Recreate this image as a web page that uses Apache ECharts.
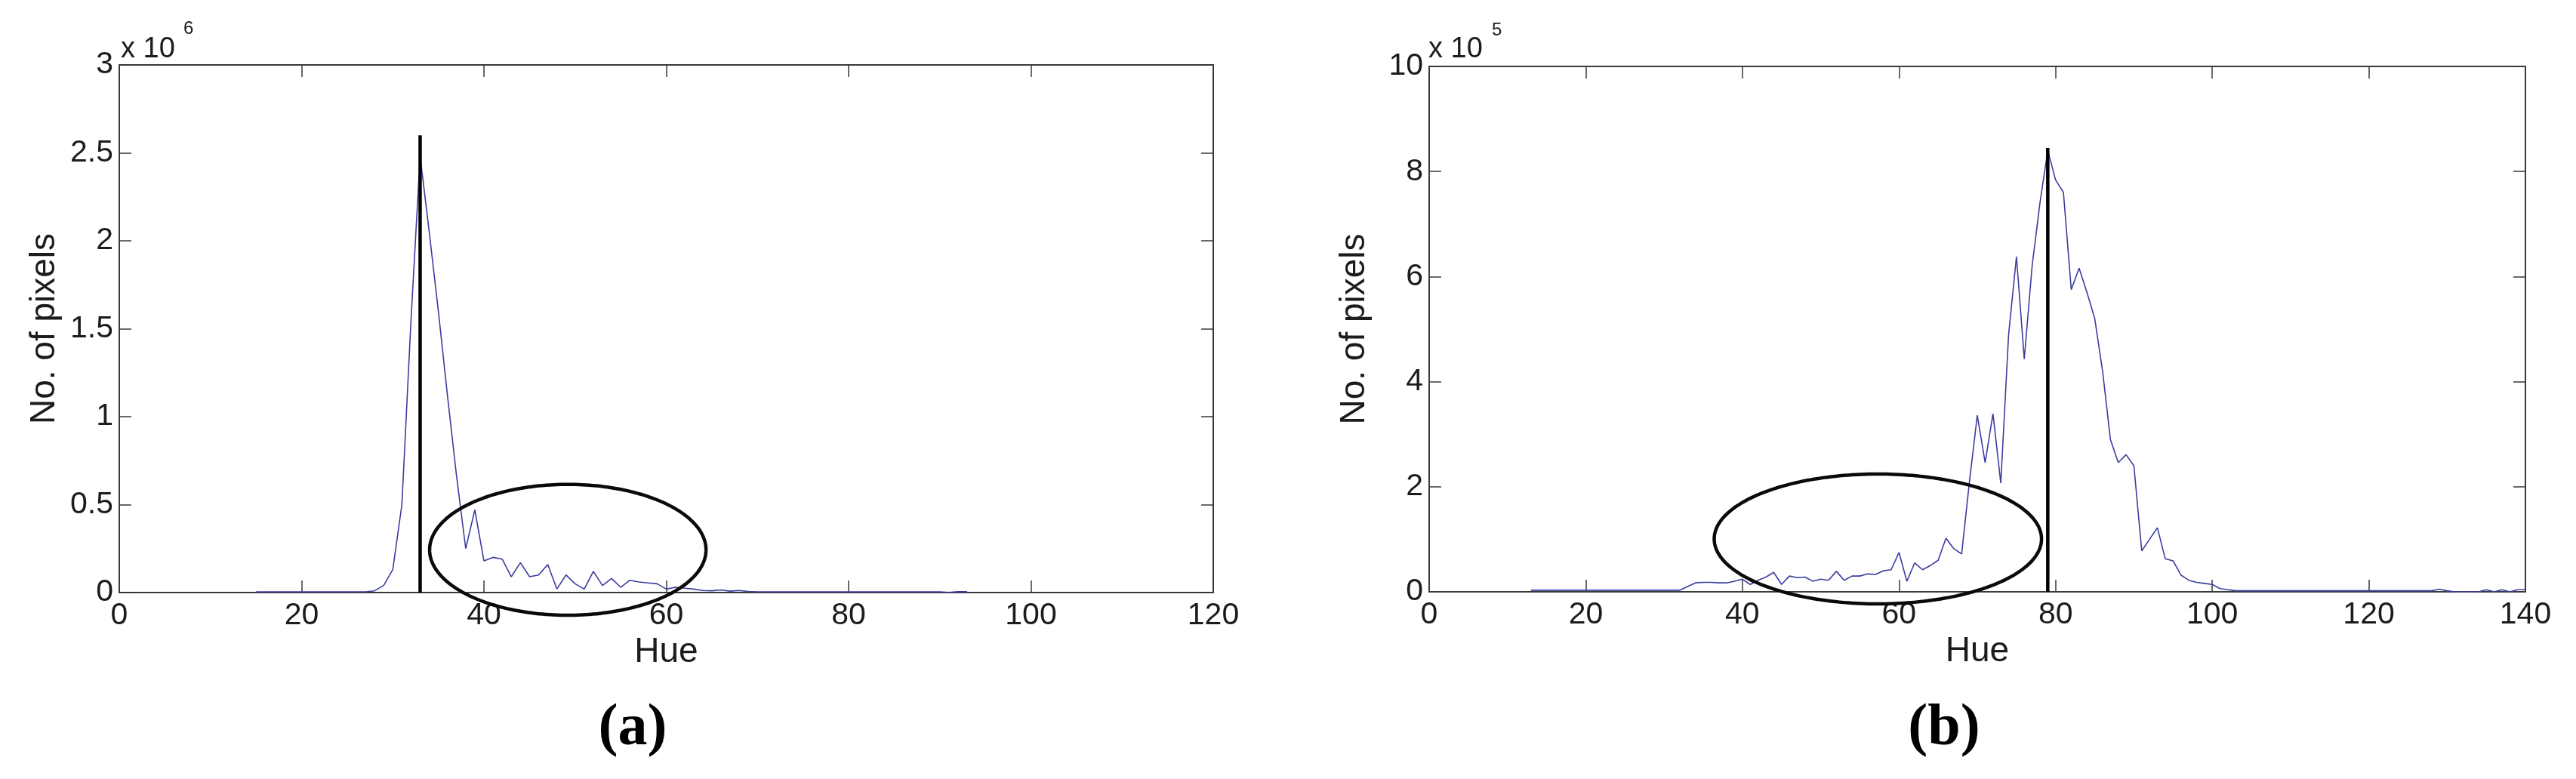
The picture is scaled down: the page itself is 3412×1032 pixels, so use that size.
<!DOCTYPE html>
<html><head><meta charset="utf-8">
<script src="https://cdn.jsdelivr.net/npm/echarts@6/dist/echarts.min.js"></script>
<style>html,body{margin:0;padding:0;background:#fff}#c{width:3412px;height:1032px}</style>
</head><body><div id="c"></div>
<script>
// ---- Panel (a): hue histogram, counts in units of 10^6 ----
const hueA = [15,16,17,18,19,20,21,22,23,24,25,26,27,28,29,30,31,32,33,34,35,36,37,38,39,40,
  41,42,43,44,45,46,47,48,49,50,51,52,53,54,55,56,57,58,59,60,61,62,63,64,65,66,67,68,69,70,
  71,72,73,74,75,76,77,78,79,80,81,82,83,84,85,86,87,88,89,90,91,92,93];
const countA = [0.004,0.004,0.004,0.004,0.004,0.004,0.004,0.004,0.004,0.004,0.004,0.004,0.004,
  0.01,0.04,0.13,0.5,1.55,2.48,2.05,1.6,1.12,0.66,0.25,0.47,0.18,
  0.2,0.19,0.09,0.17,0.09,0.1,0.16,0.02,0.1,0.05,0.02,0.12,0.04,0.08,0.03,0.07,0.06,0.055,0.05,0.02,
  0.03,0.025,0.02,0.012,0.01,0.015,0.008,0.012,0.006,0.004,
  0.004,0.004,0.004,0.004,0.004,0.004,0.004,0.004,0.004,0.004,0.004,0.004,0.004,0.004,0.004,0.004,0.004,0.004,0.004,0.004,
  0.001,0.005,0.005];
const peakLineA = [33, 2.6];            // [hue, top]
const ellipseA = [49.2, 0.243, 15.16, 0.372]; // [cx, cy, rx, ry] in data units
const xTicksA = [0, 120, 20];           // min, max, step
const yTicksA = [0, 3, 0.5];

// ---- Panel (b): counts in units of 10^5 ----
const hueB = [13,14,15,16,17,18,19,20,21,22,23,24,25,26,27,28,29,30,31,32,33,34,35,36,37,38,39,40,
  41,42,43,44,45,46,47,48,49,50,51,52,53,54,55,56,57,58,59,60,61,62,63,64,65,66,67,68,69,70,
  71,72,73,74,75,76,77,78,79,80,81,82,83,84,85,86,87,88,89,90,91,92,93,94,95,96,97,98,99,100,
  101,102,103,104,105,106,107,108,109,110,111,112,113,114,115,116,117,118,119,120,
  121,122,123,124,125,126,127,128,129,130,131,132,133,134,135,136,137,138,139,140];
const countB = [0.03,0.03,0.03,0.03,0.03,0.03,0.03,0.03,0.03,0.03,0.03,0.03,0.03,0.03,0.03,0.03,0.03,0.03,0.03,0.03,
  0.1,0.17,0.18,0.18,0.17,0.17,0.2,0.24,
  0.14,0.22,0.28,0.37,0.14,0.3,0.27,0.28,0.2,0.24,0.22,0.39,0.22,0.3,0.3,0.34,0.33,0.4,0.42,0.75,
  0.2,0.55,0.42,0.5,0.6,1.02,0.82,0.72,2.1,3.36,
  2.46,3.39,2.07,4.9,6.38,4.43,6.2,7.4,8.4,7.84,7.6,5.75,6.16,5.7,5.2,4.2,2.9,2.46,2.61,2.4,
  0.78,1.0,1.22,0.63,0.59,0.32,0.22,0.18,0.16,0.14,
  0.06,0.04,0.02,0.02,0.02,0.02,0.02,0.02,0.02,0.02,0.02,0.02,0.02,0.02,0.02,0.02,0.02,0.02,0.02,0.02,
  0.02,0.02,0.02,0.02,0.02,0.02,0.02,0.02,0.05,0.02,0,0,0,0,0.04,0,0.04,0,0.04,0.04];
const peakLineB = [79, 8.45];
const ellipseB = [57.3, 1.006, 20.9, 1.236];
const xTicksB = [0, 140, 20];
const yTicksB = [0, 10, 2];

const labelsText = { xName: 'Hue', yName: 'No. of pixels', panelA: '(a)', panelB: '(b)', expA: '6', expB: '5' };

const FONT = "'Liberation Sans', Arial, Helvetica, sans-serif";
const AX = '#3a3a3a';
const TXT = '#1c1c1c';
const CURVE = '#3c3ca0';

function pairs(xs, ys) { return xs.map((x, i) => [x, ys[i]]); }

function xAxisPair(g, t) {
  const base = {
    gridIndex: g, type: 'value', min: t[0], max: t[1], interval: t[2],
    splitLine: { show: false },
    axisLine: { onZero: false, lineStyle: { color: AX, width: 2 } },
    axisTick: { inside: true, length: 16, lineStyle: { color: AX, width: 1.5 } }
  };
  return [
    Object.assign({}, base, {
      position: 'bottom',
      axisLabel: { fontFamily: FONT, fontSize: 41, color: TXT, margin: 10 },
      name: labelsText.xName, nameLocation: 'middle', nameGap: 52,
      nameTextStyle: { fontFamily: FONT, fontSize: 46, color: TXT }
    }),
    Object.assign({}, base, { position: 'top', axisLabel: { show: false } })
  ];
}
function yAxisPair(g, t) {
  const base = {
    gridIndex: g, type: 'value', min: t[0], max: t[1], interval: t[2],
    splitLine: { show: false },
    axisLine: { onZero: false, lineStyle: { color: AX, width: 2 } },
    axisTick: { inside: true, length: 16, lineStyle: { color: AX, width: 1.5 } }
  };
  return [
    Object.assign({}, base, {
      position: 'left',
      axisLabel: { fontFamily: FONT, fontSize: 41, color: TXT, margin: 8 },
      name: labelsText.yName, nameLocation: 'middle', nameGap: 76,
      nameTextStyle: { fontFamily: FONT, fontSize: 46, color: TXT }
    }),
    Object.assign({}, base, { position: 'right', axisLabel: { show: false } })
  ];
}

function ellipseSeries(xi, yi, e) {
  return {
    type: 'custom', xAxisIndex: xi, yAxisIndex: yi, clip: false, silent: true, z: 6,
    data: [e],
    renderItem: function (params, api) {
      const cx = api.value(0), cy = api.value(1), rx = api.value(2), ry = api.value(3);
      const pts = [];
      for (let i = 0; i <= 240; i++) {
        const t = i / 240 * 2 * Math.PI;
        pts.push(api.coord([cx + rx * Math.cos(t), cy + ry * Math.sin(t)]));
      }
      return { type: 'polygon', shape: { points: pts }, style: { fill: 'none', stroke: '#0a0a0a', lineWidth: 4.5 } };
    }
  };
}

const chart = echarts.init(document.getElementById('c'), null, { renderer: 'canvas' });
const xa = xAxisPair(0, xTicksA), xb = xAxisPair(1, xTicksB);
const ya = yAxisPair(0, yTicksA), yb = yAxisPair(1, yTicksB);

chart.setOption({
  animation: false,
  backgroundColor: '#ffffff',
  grid: [
    { left: 158, top: 86, width: 1449, height: 699 },
    { left: 1893, top: 88, width: 1452, height: 696 }
  ],
  xAxis: [xa[0], xa[1], xb[0], xb[1]],
  yAxis: [ya[0], ya[1], yb[0], yb[1]],
  series: [
    { type: 'line', xAxisIndex: 0, yAxisIndex: 0, data: pairs(hueA, countA), symbol: 'none',
      lineStyle: { color: CURVE, width: 1.6 }, z: 4 },
    { type: 'line', xAxisIndex: 0, yAxisIndex: 0, data: [[peakLineA[0], 0], [peakLineA[0], peakLineA[1]]],
      symbol: 'none', lineStyle: { color: '#000', width: 4.5 }, z: 5 },
    ellipseSeries(0, 0, ellipseA),
    { type: 'line', xAxisIndex: 2, yAxisIndex: 2, data: pairs(hueB, countB), symbol: 'none',
      lineStyle: { color: CURVE, width: 1.6 }, z: 4 },
    { type: 'line', xAxisIndex: 2, yAxisIndex: 2, data: [[peakLineB[0], 0], [peakLineB[0], peakLineB[1]]],
      symbol: 'none', lineStyle: { color: '#000', width: 4.5 }, z: 5 },
    ellipseSeries(2, 2, ellipseB)
  ],
  graphic: [
    { type: 'text', left: 160, top: 47, style: { text: 'x 10', fontFamily: FONT, fontSize: 38, fill: TXT } },
    { type: 'text', left: 243, top: 26, style: { text: labelsText.expA, fontFamily: FONT, fontSize: 24, fill: TXT } },
    { type: 'text', left: 1892, top: 47, style: { text: 'x 10', fontFamily: FONT, fontSize: 38, fill: TXT } },
    { type: 'text', left: 1976, top: 28, style: { text: labelsText.expB, fontFamily: FONT, fontSize: 24, fill: TXT } },
    { type: 'text', x: 838, y: 966, style: { text: labelsText.panelA, fontFamily: "'Liberation Serif', 'Times New Roman', serif",
      fontWeight: 'bold', fontSize: 78, fill: '#000', textAlign: 'center', textVerticalAlign: 'middle' } },
    { type: 'text', x: 2575, y: 966, style: { text: labelsText.panelB, fontFamily: "'Liberation Serif', 'Times New Roman', serif",
      fontWeight: 'bold', fontSize: 78, fill: '#000', textAlign: 'center', textVerticalAlign: 'middle' } }
  ]
});
</script></body></html>
